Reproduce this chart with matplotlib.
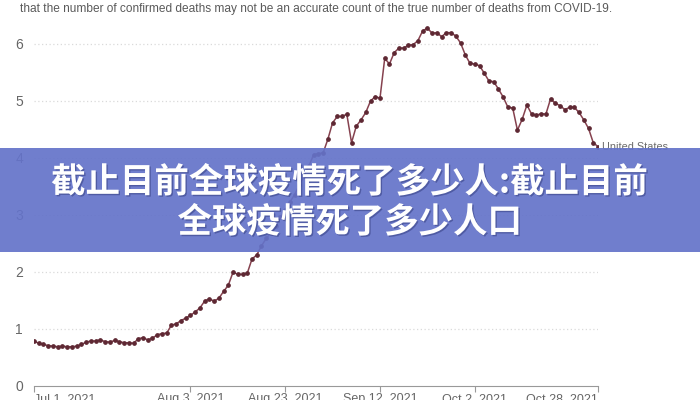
import numpy as np
import matplotlib
matplotlib.use("Agg")
import matplotlib.pyplot as plt
from matplotlib.patches import Rectangle
import matplotlib.patheffects as pe

# daily confirmed COVID-19 deaths per million, 7-day avg (United States)
dates = np.arange('2021-07-01', '2021-10-29', dtype='datetime64[D]')
deaths = [
    0.78, 0.74, 0.72, 0.70, 0.69, 0.68, 0.69, 0.68, 0.68, 0.69,
    0.72, 0.76, 0.78, 0.78, 0.80, 0.77, 0.76, 0.79, 0.77, 0.75,
    0.75, 0.74, 0.82, 0.84, 0.80, 0.83, 0.89, 0.91, 0.92, 1.06,
    1.08, 1.14, 1.18, 1.23, 1.29, 1.36, 1.48, 1.52, 1.48, 1.53,
    1.65, 1.76, 1.99, 1.95, 1.95, 1.97, 2.22, 2.29, 2.45, 2.58,
    2.68, 2.80, 2.95, 3.08, 3.22, 3.35, 3.52, 3.68, 3.85, 4.05,
    4.07, 4.08, 4.32, 4.61, 4.72, 4.72, 4.76, 4.26, 4.55, 4.66,
    4.79, 4.99, 5.07, 5.04, 5.74, 5.64, 5.84, 5.92, 5.92, 5.97,
    5.98, 6.05, 6.22, 6.27, 6.18, 6.19, 6.12, 6.19, 6.19, 6.13,
    6.01, 5.80, 5.65, 5.64, 5.61, 5.48, 5.34, 5.33, 5.20, 5.06,
    4.88, 4.87, 4.48, 4.67, 4.92, 4.76, 4.74, 4.77, 4.76, 5.03,
    4.95, 4.91, 4.84, 4.88, 4.88, 4.79, 4.66, 4.51, 4.26, 4.19,
]
tick_dates = np.array(['2021-07-01', '2021-08-03', '2021-08-23',
                       '2021-09-12', '2021-10-02', '2021-10-28'], dtype='datetime64[D]')
tick_labels = ['Jul 1, 2021', 'Aug 3, 2021', 'Aug 23, 2021',
               'Sep 12, 2021', 'Oct 2, 2021', 'Oct 28, 2021']
y_ticks = [0, 1, 2, 3, 4, 5, 6]
note = ("that the number of confirmed deaths may not be an accurate count "
        "of the true number of deaths from COVID-19.")
banner_lines = ["截止目前全球疫情死了多少人:截止目前", "全球疫情死了多少人口"]
series_name = "United States"

plt.rcParams['font.family'] = ['Liberation Sans', 'DejaVu Sans']

fig = plt.figure(figsize=(7, 4), dpi=100)
ax = fig.add_axes([34 / 700, 14.5 / 400, 564 / 700, 6.35 * 57 / 400])

ax.plot(dates, deaths, color='#86424f', lw=1.1, marker='o', ms=2.4,
        mfc='#5e2833', mec='#5e2833', zorder=3)

ax.set_ylim(0, 6.35)
ax.set_xlim(dates[0], dates[-1])
ax.set_yticks(y_ticks)
ax.set_yticklabels([str(v) for v in y_ticks])
for v in y_ticks[1:]:
    ax.axhline(v, color='#dadada', lw=0.9, ls=(0, (1, 2)), zorder=1)

ax.set_xticks(tick_dates)
ax.set_xticklabels(tick_labels)
xl = ax.get_xticklabels()
xl[0].set_ha('left')
xl[-1].set_ha('right')

for s in ['top', 'right', 'left']:
    ax.spines[s].set_visible(False)
ax.spines['bottom'].set_color('#999999')
ax.tick_params(axis='y', length=0, pad=8, labelsize=10, labelcolor='#666666')
ax.tick_params(axis='x', length=4, color='#999999', pad=1.5,
               labelsize=9, labelcolor='#666666')

# end label
ax.annotate(series_name, xy=(dates[-1], deaths[-1]), xytext=(3, 0),
            textcoords='offset points', fontsize=7.8, color='#6b6b6b',
            va='center', ha='left', annotation_clip=False, zorder=2)

fig.text(20 / 700, 1 - 9 / 400, note, fontsize=8.6, color='#5a5a5a',
         va='center', ha='left')

# banner overlay
fig.patches.append(Rectangle((0, 1 - 252 / 400), 1, 104 / 400,
                             transform=fig.transFigure, facecolor='#6473c9',
                             alpha=0.92, edgecolor='none', zorder=10))
shadow = [pe.withSimplePatchShadow(offset=(1, -1), shadow_rgbFace='#3a4488', alpha=0.6)]
for i, txt in enumerate(banner_lines):
    fig.text(0.5, 1 - (182 + 40 * i) / 400, txt, fontsize=24.8, color='white',
             fontweight='bold', ha='center', va='center', zorder=11,
             family=['Noto Sans CJK SC', 'DejaVu Sans'], path_effects=shadow)

fig.savefig('out.png', dpi=100)
